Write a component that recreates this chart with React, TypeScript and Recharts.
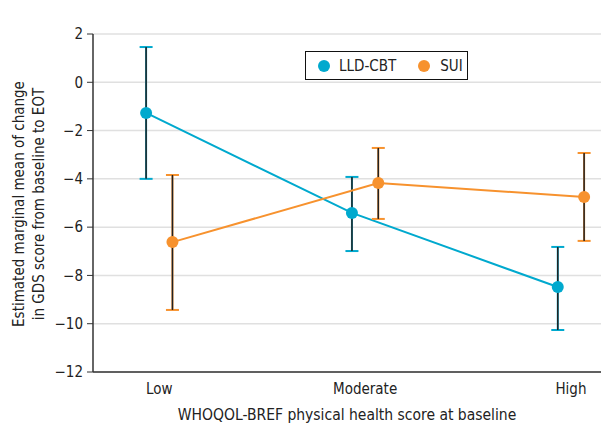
import React from 'react';
import { LineChart, Line, XAxis, YAxis, CartesianGrid, ErrorBar } from 'recharts';

const categories = ['Low', 'Moderate', 'High'];
const lldMean = [-1.27, -5.41, -8.48];
const lldLower = [-4.0, -6.99, -10.26];
const lldUpper = [1.46, -3.92, -6.82];
const suiMean = [-6.62, -4.17, -4.75];
const suiLower = [-9.43, -5.66, -6.57];
const suiUpper = [-3.84, -2.72, -2.93];
const yTicks = [-12, -10, -8, -6, -4, -2, 0, 2];

const LLD_COLOR = '#00A9CE';
const SUI_COLOR = '#F7922E';
const FONT = '"DejaVu Sans Condensed", "Liberation Sans Narrow", sans-serif';
const OFFSET = 0.064;

const build = (mean: number[], lower: number[], upper: number[], off: number) =>
  categories.map((c, i) => ({
    x: i + off,
    cat: c,
    y: mean[i],
    err: [mean[i] - lower[i], upper[i] - mean[i]],
  }));

const lldData = build(lldMean, lldLower, lldUpper, -OFFSET);
const suiData = build(suiMean, suiLower, suiUpper, OFFSET);

const YLabel = (props: any) => {
  const vb = props.viewBox || {};
  const cy = vb.y + vb.height / 2 + 1;
  const x1 = 24;
  const x2 = 44;
  return (
    <g>
      <text x={x1} y={cy} transform={`rotate(-90 ${x1} ${cy})`} textAnchor="middle" fontSize={15} fill="#222" fontFamily={FONT}>
        Estimated marginal mean of change
      </text>
      <text x={x2} y={cy} transform={`rotate(-90 ${x2} ${cy})`} textAnchor="middle" fontSize={15} fill="#222" fontFamily={FONT}>
        in GDS score from baseline to EOT
      </text>
    </g>
  );
};

const LegendBox = () => (
  <div
    style={{
      position: 'absolute',
      left: 305,
      top: 51,
      width: 161,
      height: 27,
      border: '1.5px solid #111',
      background: '#fff',
      display: 'flex',
      alignItems: 'center',
      fontFamily: FONT,
      fontSize: 15,
      color: '#222',
      boxSizing: 'content-box',
    }}
  >
    <span style={{ width: 12, height: 12, borderRadius: 6, background: LLD_COLOR, marginLeft: 12, marginRight: 9 }} />
    <span>LLD-CBT</span>
    <span style={{ width: 12, height: 12, borderRadius: 6, background: SUI_COLOR, marginLeft: 22, marginRight: 10 }} />
    <span>SUI</span>
  </div>
);

export default function App() {
  return (
    <div style={{ position: 'absolute', left: 0, top: 0, width: 601, height: 428, background: '#fff' }}>
      <LineChart width={601} height={428} margin={{ top: 34, right: 0, bottom: 0, left: 0 }}>
        <CartesianGrid vertical={false} stroke="#e0e0e0" strokeWidth={1.5} />
        <XAxis
          type="number"
          dataKey="x"
          domain={[-0.322, 2.146]}
          ticks={[0, 1, 2]}
          tickFormatter={(v: number) => categories[Math.round(v)]}
          tickLine={false}
          axisLine={{ stroke: '#333', strokeWidth: 1.5 }}
          tick={{ fontSize: 15, fill: '#222', fontFamily: FONT }}
          tickMargin={5}
          height={56}
          allowDataOverflow
          label={{ value: 'WHOQOL-BREF physical health score at baseline', position: 'insideBottom', offset: 8, fontSize: 15.5, fill: '#222', fontFamily: FONT }}
        />
        <YAxis
          type="number"
          domain={[-12, 2]}
          ticks={yTicks}
          width={93}
          tickSize={6}
          tickMargin={4}
          tickFormatter={(v: number) => (v < 0 ? `\u2212${Math.abs(v)}` : `${v}`)}
          axisLine={{ stroke: '#333', strokeWidth: 1.5 }}
          tickLine={{ stroke: '#333' }}
          tick={{ fontSize: 15, fill: '#222', fontFamily: FONT }}
          label={<YLabel />}
        />
        <Line
          data={lldData}
          dataKey="y"
          name="LLD-CBT"
          stroke={LLD_COLOR}
          strokeWidth={2}
          dot={{ r: 6, fill: LLD_COLOR, stroke: LLD_COLOR, strokeWidth: 0 }}
          activeDot={false}
          isAnimationActive={false}
        >
          <ErrorBar dataKey="err" width={6.5} stroke={LLD_COLOR} strokeWidth={2} isAnimationActive={false} />
          <ErrorBar dataKey="err" width={0} stroke="#222" strokeWidth={1.5} isAnimationActive={false} />
        </Line>
        <Line
          data={suiData}
          dataKey="y"
          name="SUI"
          stroke={SUI_COLOR}
          strokeWidth={2}
          dot={{ r: 6, fill: SUI_COLOR, stroke: SUI_COLOR, strokeWidth: 0 }}
          activeDot={false}
          isAnimationActive={false}
        >
          <ErrorBar dataKey="err" width={6.5} stroke={SUI_COLOR} strokeWidth={2} isAnimationActive={false} />
          <ErrorBar dataKey="err" width={0} stroke="#222" strokeWidth={1.5} isAnimationActive={false} />
        </Line>
      </LineChart>
      <LegendBox />
    </div>
  );
}
